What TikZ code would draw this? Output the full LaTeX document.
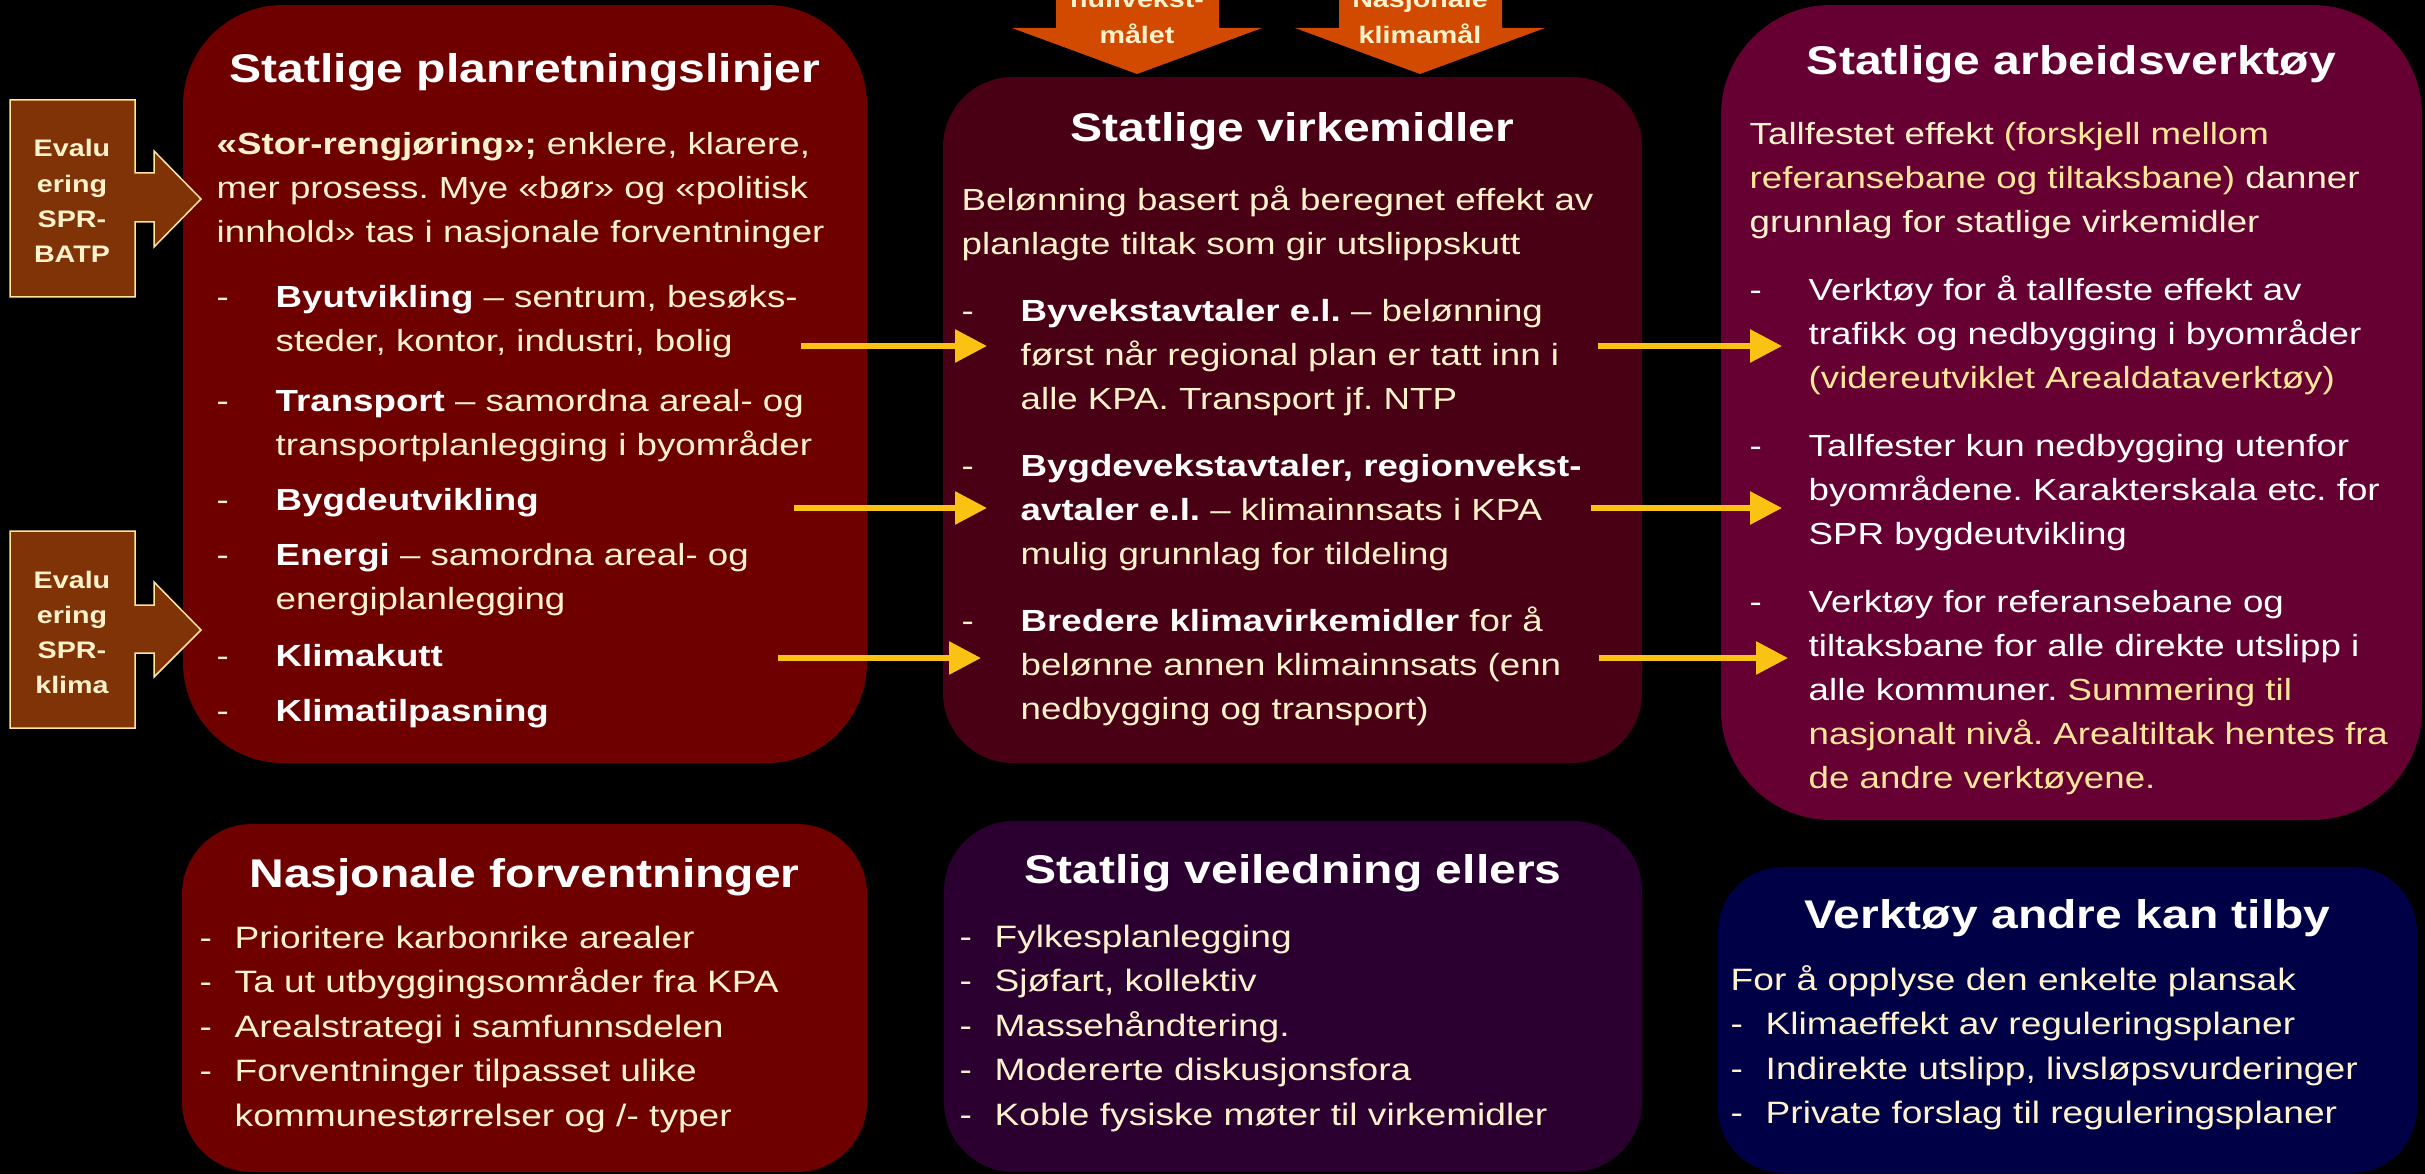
\documentclass[tikz,border=0pt]{standalone}
\usepackage{fontspec}
\setmainfont{Liberation Sans}[FakeStretch=1.2]
\usepackage{tikz}
\usetikzlibrary{arrows.meta}
\definecolor{sprred}{RGB}{110, 0, 0}
\definecolor{virkred}{RGB}{74, 0, 20}
\definecolor{verkpurple}{RGB}{102, 0, 51}
\definecolor{veilpurple}{RGB}{43, 0, 48}
\definecolor{andrenavy}{RGB}{0, 0, 70}
\definecolor{evalbrown}{RGB}{128, 51, 6}
\definecolor{goalorange}{RGB}{210, 74, 0}
\definecolor{arrowyellow}{RGB}{250, 195, 20}
\definecolor{creamtext}{RGB}{255, 242, 204}
\definecolor{hltext}{RGB}{255, 230, 153}

\newcommand{\topdash}{\makebox[5.9mm][l]{-}}
\newcommand{\topindent}{\hspace*{5.9mm}}
\newcommand{\listdash}{\makebox[3.5mm][l]{-}}
\newcommand{\listindent}{\hspace*{3.5mm}}
\frenchspacing

\begin{document}
\begin{tikzpicture}[x=0.1mm, y=-0.1mm,
    panel/.style={inner sep=0pt, draw=none},
    boxtitle/.style={anchor=base, inner sep=0pt, text=white, font=\fontsize{11.4}{13}\selectfont\bfseries},
    body/.style={anchor=base west, inner sep=0pt, text width=67mm, text=creamtext, font=\fontsize{8.7}{12.5}\selectfont},
    listbody/.style={body, font=\fontsize{8.8}{12.7}\selectfont},
    evaltext/.style={anchor=base, inner sep=0pt, text width=20mm, align=center, text=creamtext, font=\fontsize{6.8}{10}\selectfont\bfseries},
    evalshape/.style={fill=evalbrown, draw=hltext, line width=0.15mm},
    goalshape/.style={fill=goalorange},
    flow/.style={-{Triangle[length=3.2mm, width=3.2mm]}, line width=0.6mm, draw=arrowyellow}]
        \fill[black] (0,0) rectangle (2425,1174);
        \useasboundingbox (0,0) rectangle (2425,1174);
        \clip (0,0) rectangle (2425,1174);

        % boxes
        \node[panel, fill=sprred, minimum width=68.4mm, minimum height=75.8mm, rounded corners=10mm] (spr) at (525,384) {};
        \node[panel, fill=virkred, minimum width=69.9mm, minimum height=68.6mm, rounded corners=7mm] (virk) at (1292.5,420) {};
        \node[panel, fill=verkpurple, minimum width=70.1mm, minimum height=81.5mm, rounded corners=11mm] (verk) at (2071.5,412.5) {};
        \node[panel, fill=sprred, minimum width=68.5mm, minimum height=34.8mm, rounded corners=7mm] (nasj) at (524.5,998) {};
        \node[panel, fill=veilpurple, minimum width=69.8mm, minimum height=35.1mm, rounded corners=7mm] (veil) at (1293,996.5) {};
        \node[panel, fill=andrenavy, minimum width=69.9mm, minimum height=30.6mm, rounded corners=6.5mm] (andre) at (2067.5,1020) {};

        % titles
        \node[boxtitle] (sprtitle) at (525,83) {Statlige planretningslinjer};
        \node[boxtitle] (virktitle) at (1292.5,142) {Statlige virkemidler};
        \node[boxtitle] (verktitle) at (2071.5,75) {Statlige arbeidsverktøy};
        \node[boxtitle] (nasjtitle) at (524.5,887) {Nasjonale forventninger};
        \node[boxtitle] (veiltitle) at (1293,883) {Statlig veiledning ellers};
        \node[boxtitle] (andretitle) at (2067.5,928) {Verktøy andre kan tilby};

        % texts
        \node[body] (sprtext) at (216,155) {{\bfseries «Stor-rengjøring»;} enklere, klarere,\\
            mer prosess. Mye «bør» og «politisk\\
            innhold» tas i nasjonale forventninger\\[2.1mm]
            \topdash\textcolor{white}{\bfseries Byutvikling} – sentrum, besøks-\\
            \topindent steder, kontor, industri, bolig\\[1.6mm]
            \topdash\textcolor{white}{\bfseries Transport} – samordna areal- og\\
            \topindent transportplanlegging i byområder\\[1.1mm]
            \topdash\textcolor{white}{\bfseries Bygdeutvikling}\\[1.1mm]
            \topdash\textcolor{white}{\bfseries Energi} – samordna areal- og\\
            \topindent energiplanlegging\\[1.3mm]
            \topdash\textcolor{white}{\bfseries Klimakutt}\\[1.1mm]
            \topdash\textcolor{white}{\bfseries Klimatilpasning}};
        \node[body] (virktext) at (961,211) {Belønning basert på beregnet effekt av\\
            planlagte tiltak som gir utslippskutt\\[2.3mm]
            \topdash\textcolor{white}{\bfseries Byvekstavtaler e.l.} – belønning\\
            \topindent først når regional plan er tatt inn i\\
            \topindent alle KPA. Transport jf. NTP\\[2.3mm]
            \topdash\textcolor{white}{\bfseries Bygdevekstavtaler, regionvekst-}\\
            \topindent\textcolor{white}{\bfseries avtaler e.l.} – klimainnsats i KPA\\
            \topindent mulig grunnlag for tildeling\\[2.3mm]
            \topdash\textcolor{white}{\bfseries Bredere klimavirkemidler} for å\\
            \topindent belønne annen klimainnsats (enn\\
            \topindent nedbygging og transport)};
        \node[body] (verktext) at (1749,145) {Tallfestet effekt \textcolor{hltext}{(forskjell mellom}\\
            \textcolor{hltext}{referansebane og tiltaksbane)} danner\\
            grunnlag for statlige virkemidler\\[2.4mm]
            \color{white}\topdash Verktøy for å tallfeste effekt av\\
            \topindent trafikk og nedbygging i byområder\\
            \topindent\textcolor{hltext}{(videreutviklet Arealdataverktøy)}\\[2.4mm]
            \topdash Tallfester kun nedbygging utenfor\\
            \topindent byområdene. Karakterskala etc. for\\
            \topindent SPR bygdeutvikling\\[2.4mm]
            \topdash Verktøy for referansebane og\\
            \topindent tiltaksbane for alle direkte utslipp i\\
            \topindent alle kommuner. \textcolor{hltext}{Summering til}\\
            \topindent\textcolor{hltext}{nasjonalt nivå. Arealtiltak hentes fra}\\
            \topindent\textcolor{hltext}{de andre verktøyene.}};
        \node[listbody] (nasjtext) at (199,948) {\listdash Prioritere karbonrike arealer\\
            \listdash Ta ut utbyggingsområder fra KPA\\
            \listdash Arealstrategi i samfunnsdelen\\
            \listdash Forventninger tilpasset ulike\\
            \listindent kommunestørrelser og /- typer};
        \node[listbody] (veiltext) at (959,947) {\listdash Fylkesplanlegging\\
            \listdash Sjøfart, kollektiv\\
            \listdash Massehåndtering.\\
            \listdash Modererte diskusjonsfora\\
            \listdash Koble fysiske møter til virkemidler};
        \node[listbody] (andretext) at (1730,990) {For å opplyse den enkelte plansak\\
            \listdash Klimaeffekt av reguleringsplaner\\
            \listdash Indirekte utslipp, livsløpsvurderinger\\
            \listdash Private forslag til reguleringsplaner};

        % evaluation arrows
        \draw[evalshape] (10,100) -- (135,100) -- (135,173) -- (154,173) -- (154,151) -- (201,199) -- (154,247) -- (154,222) -- (135,222) -- (135,297) -- (10,297) -- cycle;
        \node[evaltext] (evalbatp) at (72,157) {Evalu\\ering\\SPR-\\BATP};
        \draw[evalshape] (10,531) -- (135,531) -- (135,605) -- (154,605) -- (154,582) -- (201,630) -- (154,677) -- (154,653) -- (135,653) -- (135,728) -- (10,728) -- cycle;
        \node[evaltext] (evalklima) at (72,588) {Evalu\\ering\\SPR-\\klima};

        % goal arrows
        \fill[goalshape] (1056,-20) -- (1219,-20) -- (1219,28) -- (1262,28) -- (1137,74) -- (1012,28) -- (1056,28) -- cycle;
        \node[evaltext] (nullvekst) at (1137,8) {nullvekst-\\målet};
        \fill[goalshape] (1339,-20) -- (1502,-20) -- (1502,28) -- (1545,28) -- (1420,74) -- (1295,28) -- (1339,28) -- cycle;
        \node[evaltext] (klimamal) at (1420,8) {Nasjonale\\klimamål};

        % yellow links
        \coordinate (byutvout) at (801,346);
        \coordinate (byvekstin) at (987,346);
        \coordinate (byvekstout) at (1598,346);
        \coordinate (tallfesteffin) at (1782,346);
        \coordinate (bygdout) at (794,508);
        \coordinate (bygdvekstin) at (987,508);
        \coordinate (bygdvekstout) at (1591,508);
        \coordinate (tallfesterin) at (1782,508);
        \coordinate (klimaout) at (778,658);
        \coordinate (brederein) at (981,658);
        \coordinate (bredereout) at (1599,658);
        \coordinate (referansein) at (1788,658);
        \draw[flow] (byutvout) -- (byvekstin);
        \draw[flow] (bygdout) -- (bygdvekstin);
        \draw[flow] (klimaout) -- (brederein);
        \draw[flow] (byvekstout) -- (tallfesteffin);
        \draw[flow] (bygdvekstout) -- (tallfesterin);
        \draw[flow] (bredereout) -- (referansein);
    \end{tikzpicture}
\end{document}
